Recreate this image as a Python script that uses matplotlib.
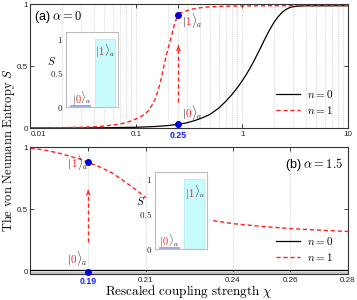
import matplotlib
matplotlib.use('Agg')
import matplotlib.pyplot as plt
from matplotlib.transforms import offset_copy
from matplotlib.ticker import FixedLocator, NullFormatter, LogLocator

plt.rcParams['mathtext.fontset'] = 'cm'
plt.rcParams['font.family'] = ['Liberation Sans', 'DejaVu Sans']

# ---------------- data ----------------
# panel (a): alpha = 0, log x
a_n0_x = [0.01, 0.03, 0.05, 0.1, 0.15, 0.2, 0.25, 0.3, 0.35, 0.4, 0.45, 0.5, 0.6, 0.7, 0.8, 0.9,
          1.0, 1.1, 1.2, 1.3, 1.4, 1.5, 1.6, 1.7, 1.8, 1.9, 2.0, 2.2, 2.4, 2.6, 2.8, 3.0, 3.5, 4.0, 10]
a_n0_s = [0.0, 0.001, 0.002, 0.006, 0.012, 0.02, 0.03, 0.042, 0.058, 0.075, 0.093, 0.112, 0.16, 0.215,
          0.27, 0.325, 0.38, 0.435, 0.49, 0.545, 0.6, 0.65, 0.7, 0.745, 0.785, 0.82, 0.853, 0.9, 0.935,
          0.957, 0.97, 0.978, 0.984, 0.986, 0.986]
a_n1_lo_x = [0.01, 0.02, 0.03, 0.04, 0.05, 0.06, 0.07, 0.08, 0.09, 0.1, 0.11, 0.12, 0.13, 0.14, 0.15,
             0.16, 0.17, 0.18, 0.19, 0.2, 0.21, 0.22, 0.23, 0.24, 0.25]
a_n1_lo_s = [0.0, 0.003, 0.006, 0.01, 0.016, 0.024, 0.032, 0.043, 0.058, 0.075, 0.092, 0.11, 0.14, 0.18,
             0.23, 0.3, 0.38, 0.48, 0.57, 0.645, 0.71, 0.775, 0.84, 0.885, 0.91]
a_n1_hi_x = [0.25, 0.27, 0.289, 0.32, 0.35, 0.4, 0.478, 0.6, 0.7, 1.0, 10]
a_n1_hi_s = [0.925, 0.933, 0.942, 0.953, 0.962, 0.97, 0.976, 0.98, 0.982, 0.985, 0.988]
a_dots_x = [0.25, 0.25]
a_dots_s = [0.91, 0.03]
a_xticks = [0.01, 0.1, 0.25, 1, 10]
a_xticklabels = ['0.01', '0.1', '0.25', '1', '10']

# panel (b): alpha = 1.5, linear x
b_n0_x = [0.17, 0.28]
b_n0_s = [0.014, 0.014]
b_n1_l_x = [0.17, 0.173, 0.176, 0.18, 0.183, 0.187, 0.19, 0.194, 0.198, 0.201, 0.204, 0.207, 0.21]
b_n1_l_s = [0.99, 0.982, 0.97, 0.95, 0.93, 0.905, 0.877, 0.84, 0.796, 0.75, 0.70, 0.65, 0.594]
b_n1_r_x = [0.2333, 0.24, 0.25, 0.26, 0.27, 0.28]
b_n1_r_s = [0.411, 0.387, 0.365, 0.347, 0.335, 0.324]
b_dots_x = [0.19, 0.19]
b_dots_s = [0.877, 0.0]
b_xticks = [0.19, 0.21, 0.24, 0.26, 0.28]
b_xticklabels = ['0.19', '0.21', '0.24', '0.26', '0.28']

yticks = [0, 0.5, 1]
yticklabels = ['0', '0.5', '1']

# insets
inset_states = ['0', '1']
inset_heights = [0.03, 1.0]
inset_colors = ['#a9a9e8', '#c8fbfb']
inset_edges = ['#9090d8', '#a8e8f0']

RED = '#ff2020'
BLUE = '#0000dd'

fig = plt.figure(figsize=(3.57, 3.0), dpi=100)
axA = fig.add_axes([0.0854, 0.5733, 0.8894, 0.4133])
axB = fig.add_axes([0.0854, 0.0867, 0.8894, 0.4233])
renderer = fig.canvas.get_renderer()


def _w(s, fs):
    t = fig.text(0, 0, s, fontsize=fs)
    w = t.get_window_extent(renderer).width
    t.remove()
    return w


def ket(ax, x, y, digit, fs, transform):
    d = r'$%s$' % digit
    full = r'$|%s\rangle_a$' % digit
    off1 = _w(r'$|%s$' % digit, fs) - _w(d, fs) + 0.3
    off2 = _w(full, fs) - _w(r'$\rangle_a$', fs) + 0.6
    for s, c, off in [(r'$|$', '#222222', 0.0), (d, RED, off1), (r'$\rangle_a$', '#222222', off2)]:
        tr = offset_copy(transform, fig=fig, x=off, y=0, units='dots')
        ax.text(x, y, s, fontsize=fs, color=c, transform=tr, va='baseline', ha='left', zorder=6)


def style(ax):
    for sp in ax.spines.values():
        sp.set_color('#333333')
        sp.set_linewidth(0.8)
    ax.tick_params(which='major', direction='in', length=3, width=0.6, top=True, right=True,
                   labelsize=5.8, pad=2, colors='#222222')
    ax.tick_params(which='minor', length=0)
    ax.set_yticks(yticks)
    ax.set_yticklabels(yticklabels)


# ---- panel (a) ----
ax = axA
ax.set_xscale('log')
ax.set_xlim(0.01, 10)
ax.set_ylim(0, 1.0)
style(ax)
ax.xaxis.set_major_locator(FixedLocator(a_xticks))
ax.set_xticklabels(a_xticklabels)
ax.xaxis.set_minor_locator(LogLocator(base=10, subs=[2, 3, 4, 5, 6, 7, 8, 9]))
ax.xaxis.set_minor_formatter(NullFormatter())
ax.grid(True, which='both', axis='x', color='#c8c8c8', linestyle=(0, (1, 1.5)), linewidth=0.6)
ax.plot(a_n0_x, a_n0_s, color='black', lw=0.9, label=r'$n=0$', zorder=3)
ax.plot(a_n1_lo_x, a_n1_lo_s, color=RED, lw=1.0, ls=(0, (3, 2)), label=r'$n=1$', zorder=3)
ax.plot(a_n1_hi_x, a_n1_hi_s, color=RED, lw=1.0, ls=(0, (3, 2)), zorder=3)
ax.plot([0.25, 0.25], [0.21, 0.655], color=RED, lw=1.0, ls=(0, (3, 2)), zorder=3)
ax.annotate('', xy=(0.25, 0.685), xytext=(0.25, 0.64),
            arrowprops=dict(arrowstyle='->', color=RED, lw=0.9, mutation_scale=6))
ax.plot(a_dots_x, a_dots_s, 'o', color=BLUE, ms=4, zorder=5, clip_on=False)
for lbl in ax.get_xticklabels():
    if lbl.get_text() == '0.25':
        lbl.set_color('#1a1aff')
        lbl.set_fontweight('bold')
        lbl.set_fontsize(6.3)
    if lbl.get_text() == '0.01':
        lbl.set_ha('left')
        lbl.set_x(0.0)
ax.text(0.01, 0.96, r'(a) $\alpha=0$', transform=ax.transAxes, fontsize=9, va='top', ha='left')
ket(ax, 0.270, 0.83, '1', 8, ax.transData)
ket(ax, 0.268, 0.09, '0', 8, ax.transData)
ax.legend(loc='lower right', bbox_to_anchor=(0.985, 0.02), frameon=False, fontsize=8,
          handlelength=2.2, handletextpad=0.6, labelspacing=0.3)

# ---- panel (b) ----
ax = axB
ax.set_xlim(0.17, 0.28)
ax.set_ylim(-0.016, 1.0)
style(ax)
ax.set_xticks(b_xticks)
ax.set_xticklabels(b_xticklabels)
ax.grid(True, which='major', axis='x', color='#c8c8c8', linestyle=(0, (1, 1.5)), linewidth=0.6)
ax.plot([0.17, 0.28], [-0.007, -0.007], color='#c4c4c4', lw=2.2, zorder=2, solid_capstyle='butt')
ax.plot(b_n0_x, b_n0_s, color='black', lw=0.9, label=r'$n=0$', zorder=3)
ax.plot(b_n1_l_x, b_n1_l_s, color=RED, lw=1.0, ls=(0, (3, 2)), label=r'$n=1$', zorder=3)
ax.plot(b_n1_r_x, b_n1_r_s, color=RED, lw=1.0, ls=(0, (3, 2)), zorder=3)
ax.plot([0.19, 0.19], [0.24, 0.64], color=RED, lw=1.0, ls=(0, (3, 2)), zorder=3)
ax.annotate('', xy=(0.19, 0.675), xytext=(0.19, 0.63),
            arrowprops=dict(arrowstyle='->', color=RED, lw=0.9, mutation_scale=6))
ax.plot(b_dots_x, b_dots_s, 'o', color=BLUE, ms=4, zorder=5, clip_on=False)
for lbl in ax.get_xticklabels():
    if lbl.get_text() == '0.19':
        lbl.set_color('#1a1aff')
        lbl.set_fontweight('bold')
        lbl.set_fontsize(6.3)
ax.text(0.985, 0.93, r'(b) $\alpha=1.5$', transform=ax.transAxes, fontsize=9, va='top', ha='right')
ket(ax, 0.1828, 0.84, '1', 8, ax.transData)
ket(ax, 0.1825, 0.073, '0', 8, ax.transData)
ax.legend(loc='lower right', bbox_to_anchor=(0.985, 0.01), frameon=False, fontsize=8,
          handlelength=2.2, handletextpad=0.6, labelspacing=0.3)

fig.text(0.53, 0.027, r'$\mathrm{Rescaled\ coupling\ strength}\ \chi$', fontsize=9.5,
         ha='center', va='center')
fig.text(0.024, 0.5, r'$\mathrm{The\ von\ Neumann\ Entropy}\ S$', rotation=90,
         fontsize=9, va='center', ha='center')

# ---- insets ----
def inset(rect, k1, k0):
    ins = fig.add_axes(rect)
    ins.set_facecolor('white')
    ins.bar([0.5, 1.5], inset_heights, width=0.8, color=inset_colors,
            edgecolor=inset_edges, linewidth=0.5)
    ins.set_xlim(-0.06, 2.026)
    ins.set_ylim(0, 1.1)
    ins.set_xticks([])
    ins.set_yticks(yticks)
    ins.set_yticklabels([r'$0$', r'$0.5$', r'$1$'])
    ins.tick_params(axis='y', length=0, pad=2, labelsize=6.5, colors='#222222')
    for sp in ins.spines.values():
        sp.set_color('#bdbdbd')
        sp.set_linewidth(0.8)
    ins.set_ylabel(r'$S$', rotation=0, fontsize=8, labelpad=1, va='center')
    ins.yaxis.set_label_coords(-0.27, 0.62)
    ket(ins, k1[0], k1[1], '1', 7.5, ins.transAxes)
    ket(ins, k0[0], k0[1], '0', 7.5, ins.transAxes)
    return ins

inset([0.1849, 0.6433, 0.1457, 0.25], (0.56, 0.69), (0.11, 0.06))
inset([0.434, 0.17, 0.1457, 0.2567], (0.577, 0.68), (0.083, 0.05))

fig.savefig('out.png', dpi=100)
